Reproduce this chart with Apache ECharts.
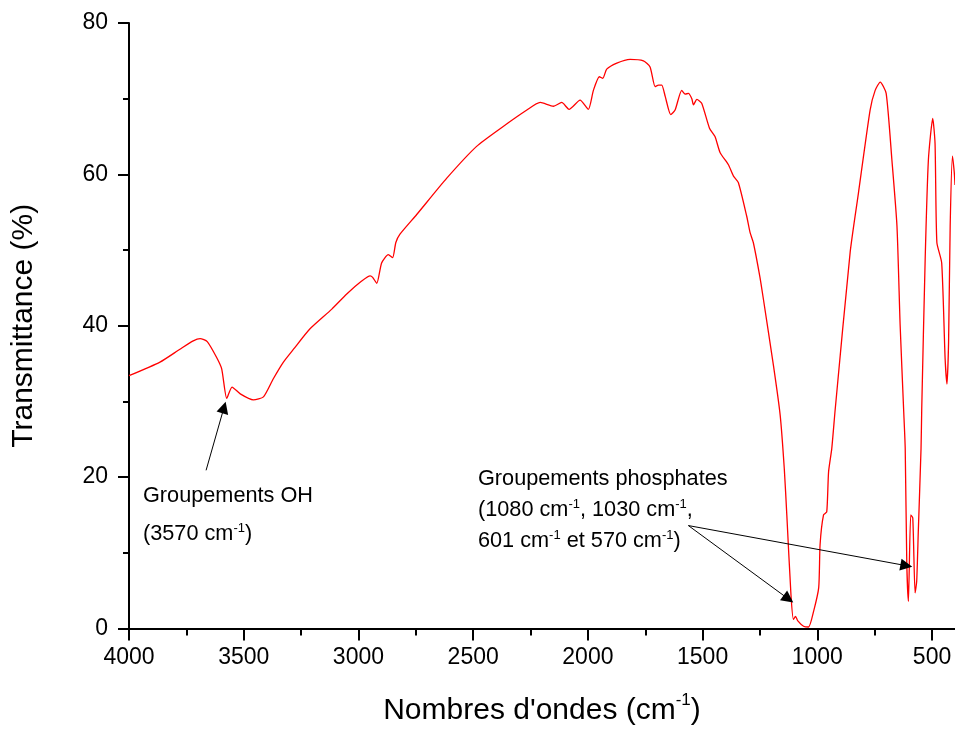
<!DOCTYPE html>
<html>
<head>
<meta charset="utf-8">
<script src="https://cdn.jsdelivr.net/npm/echarts@6/dist/echarts.min.js"></script>
<style>
  html, body { margin: 0; padding: 0; background: #fff; }
  #main { width: 955px; height: 731px; }
</style>
</head>
<body>
<div id="main"></div>
<script>
// spectre IR
const wavenumbers = [
  4000, 3865, 3778, 3720, 3690, 3659, 3618, 3596, 3574, 3551, 3515, 3458, 3414, 3371,
  3327, 3283, 3211, 3116, 3051, 2986, 2949, 2938, 2920, 2899, 2870, 2851, 2837, 2819,
  2746, 2615, 2485, 2375, 2266, 2208, 2150, 2114, 2082, 2034, 1998, 1976, 1950, 1935,
  1918, 1874, 1816, 1758, 1729, 1707, 1692, 1678, 1663, 1639, 1620, 1591, 1576, 1562,
  1547, 1540, 1525, 1504, 1470, 1446, 1424, 1388, 1366, 1344, 1308, 1293, 1279, 1250,
  1235, 1191, 1162, 1144, 1133, 1115, 1104, 1095, 1085, 1060, 1038, 1016, 994, 988, 973, 959,
  951, 937, 922, 857, 821, 770, 748, 726, 700, 675, 653, 639, 624, 617,
  610, 603, 593, 584, 574, 567, 560, 548, 545, 530, 516, 497, 487, 479,
  458, 443, 435, 428, 421, 411, 403, 400
];
const transmittance = [
  33.4, 35.2, 36.9, 38.0, 38.3, 37.9, 35.8, 34.3, 30.4, 31.9, 31.0, 30.2, 30.6, 33.0,
  35.2, 36.9, 39.6, 42.2, 44.2, 45.9, 46.6, 46.4, 45.6, 48.3, 49.4, 49.0, 51.0, 52.1,
  54.7, 59.5, 63.7, 66.2, 68.5, 69.5, 69.0, 69.5, 68.6, 69.8, 68.6, 71.1, 72.9, 72.7,
  73.9, 74.7, 75.2, 75.0, 74.2, 71.6, 71.8, 71.8, 70.3, 67.9, 68.5, 71.1, 70.6, 70.7,
  70.0, 69.2, 69.9, 69.4, 66.1, 65.0, 62.9, 61.3, 59.8, 58.9, 54.5, 52.3, 51.0, 46.4,
  43.5, 34.7, 28.2, 21.1, 15.0, 4.5, 1.2, 1.6, 1.0, 0.3, 0.2, 2.3, 5.4, 11.1, 15.0, 15.4,
  20.7, 23.8, 29.0, 49.7, 57.5, 68.5, 71.1, 72.2, 70.7, 61.9, 53.2, 40.0, 29.0, 23.8,
  8.4, 3.6, 15.0, 14.6, 4.7, 6.2, 12.8, 23.8, 29.0, 48.8, 61.9, 67.4, 64.1, 51.0,
  48.3, 35.6, 32.3, 37.8, 53.2, 62.4, 60.2, 58.6
];
const xMajorTicks = [4000, 3500, 3000, 2500, 2000, 1500, 1000, 500];
const xMinorTicks = [3750, 3250, 2750, 2250, 1750, 1250, 750];

// fleches : [queue, pointe] en (cm-1, %)
const arrowOH = [[3664, 20.9], [3586, 29.2]];
const arrowsPO4 = [
  [[1562, 13.6], [1126, 3.9]],
  [[1562, 13.6], [612, 8.3]]
];

const FONT = '"Liberation Sans", Arial, sans-serif';

const chart = echarts.init(document.getElementById('main'), null, { renderer: 'canvas' });

const specData = wavenumbers.map((w, i) => [w, transmittance[i]]);

const arrowLines = [arrowOH].concat(arrowsPO4).map(a => [
  { coord: a[0] }, { coord: a[1] }
]);

const annoRich = {
  sup: { fontSize: 13, fontFamily: FONT, fill: '#000', padding: [0, 0, 12, 0] }
};

const option = {
  animation: false,
  backgroundColor: '#fff',
  grid: { left: 129, right: 0, top: 23, bottom: 100, containLabel: false },
  xAxis: [{
    type: 'value',
    inverse: true,
    min: 400,
    max: 4000,
    name: "Nombres d'ondes (cm{sup|-1})",
    nameLocation: 'middle',
    nameGap: 63,
    nameTextStyle: {
      fontSize: 30, fontFamily: FONT, color: '#000',
      rich: { sup: { fontSize: 17, fontFamily: FONT, color: '#000', padding: [0, 0, 22, 0] } }
    },
    axisLine: { lineStyle: { color: '#000', width: 2 } },
    axisTick: { customValues: xMajorTicks, length: 12, lineStyle: { color: '#000', width: 2 } },
    axisLabel: {
      customValues: xMajorTicks, margin: 18, fontSize: 23, fontFamily: FONT, color: '#000',
      formatter: v => String(v)
    },
    splitLine: { show: false }
  }, {
    type: 'value',
    inverse: true,
    min: 400,
    max: 4000,
    position: 'bottom',
    offset: 0,
    axisLine: { show: false },
    axisTick: { customValues: xMinorTicks, length: 7, lineStyle: { color: '#000', width: 2 } },
    axisLabel: { show: false },
    splitLine: { show: false }
  }],
  yAxis: {
    type: 'value',
    min: 0,
    max: 80,
    interval: 20,
    name: 'Transmittance (%)',
    nameLocation: 'middle',
    nameGap: 90,
    nameTextStyle: { fontSize: 30, fontFamily: FONT, color: '#000' },
    axisLine: { show: true, lineStyle: { color: '#000', width: 2 } },
    axisTick: { show: true, length: 11, lineStyle: { color: '#000', width: 2 } },
    minorTick: { show: true, splitNumber: 2, length: 6, lineStyle: { color: '#000', width: 2 } },
    axisLabel: { margin: 21, fontSize: 23, fontFamily: FONT, color: '#000' },
    splitLine: { show: false }
  },
  series: [{
    type: 'line',
    xAxisIndex: 0,
    data: specData,
    showSymbol: false,
    smooth: 0.2,
    lineStyle: { color: '#ff0000', width: 1.3 },
    markLine: {
      silent: true,
      animation: false,
      symbol: ['none', 'triangle'],
      symbolSize: 12,
      label: { show: false },
      lineStyle: { color: '#000', width: 1, type: 'solid' },
      itemStyle: { color: '#000' },
      emphasis: { disabled: true },
      data: arrowLines
    }
  }],
  graphic: [{
    type: 'text',
    x: 143,
    y: 477,
    silent: true,
    style: {
      text: 'Groupements OH\n(3570 cm{sup|-1})',
      fontSize: 21.7, fontFamily: FONT, fill: '#000',
      lineHeight: 38, verticalAlign: 'top',
      rich: annoRich
    }
  }, {
    type: 'text',
    x: 478,
    y: 464,
    silent: true,
    style: {
      text: 'Groupements phosphates\n(1080 cm{sup|-1}, 1030 cm{sup|-1},\n601 cm{sup|-1} et 570 cm{sup|-1})',
      fontSize: 21.7, fontFamily: FONT, fill: '#000',
      lineHeight: 31, verticalAlign: 'top',
      rich: annoRich
    }
  }]
};

chart.setOption(option);
</script>
</body>
</html>
